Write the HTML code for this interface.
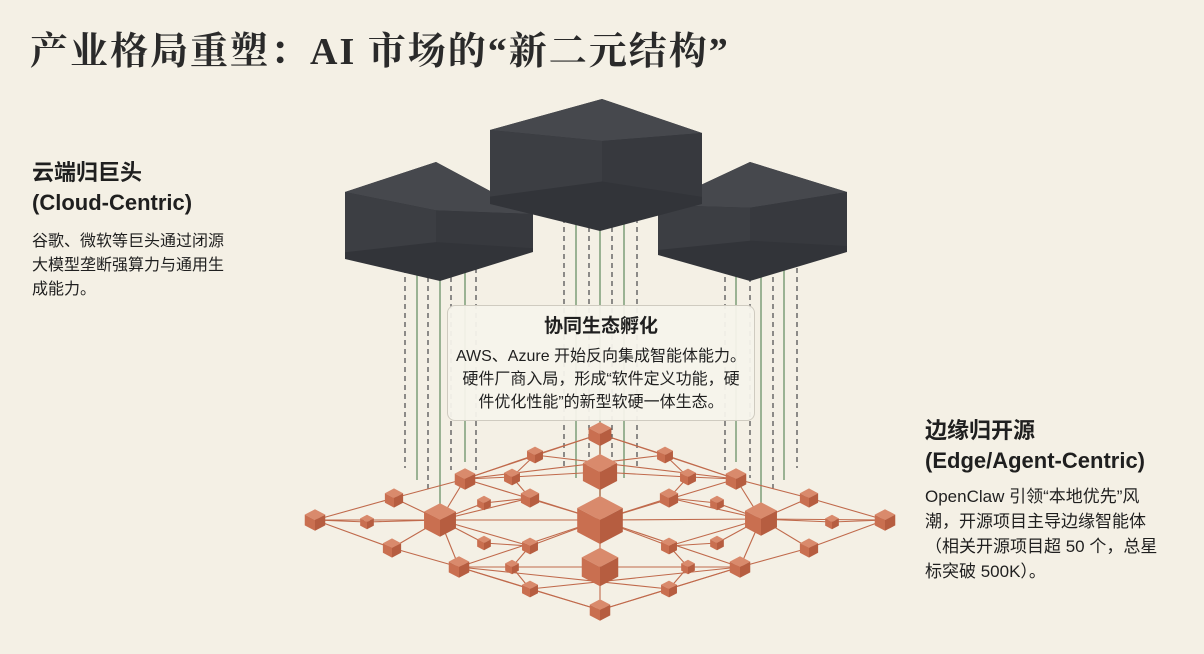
<!DOCTYPE html>
<html><head><meta charset="utf-8">
<style>
html,body{margin:0;padding:0;}
body{width:1204px;height:654px;background:#f4f0e5;position:relative;overflow:hidden;font-family:"Liberation Sans","Noto Sans CJK SC",sans-serif;color:#1f1f1f;}
.t{position:absolute;white-space:nowrap;}
h1{position:absolute;left:30px;top:20px;margin:0;font-family:"Liberation Serif","Noto Serif CJK SC",serif;font-weight:700;font-size:38px;color:#2a2a2a;letter-spacing:2px;}
.h{font-size:22px;font-weight:700;line-height:30px;}
.b{font-size:16px;line-height:24px;}
svg{position:absolute;left:0;top:0;}
.box{position:absolute;left:447px;top:305px;width:306px;height:114px;border:1px solid #cfcbc0;border-radius:8px;background:rgba(246,243,235,0.95);text-align:center;}
</style></head><body>
<svg id="s" width="1204" height="654" viewBox="0 0 1204 654"></svg>
<h1>产业格局重塑：AI 市场的“新二元结构”</h1>
<div class="t h" style="left:32px;top:158px;">云端归巨头</div>
<div class="t h" style="left:32px;top:188px;">(Cloud-Centric)</div>
<div class="t b" style="left:32px;top:230px;">谷歌、微软等巨头通过闭源<br>大模型垄断强算力与通用生<br>成能力。</div>
<div class="t h" style="left:925px;top:416px;">边缘归开源</div>
<div class="t h" style="left:925px;top:446px;">(Edge/Agent-Centric)</div>
<div class="t b" style="left:925px;top:484px;font-size:17px;line-height:25px;">OpenClaw 引领“本地优先”风<br>潮，开源项目主导边缘智能体<br>（相关开源项目超 50 个，总星<br>标突破 500K）。</div>
<div class="box">
<div style="font-size:19px;font-weight:700;margin-top:9px;line-height:24px;">协同生态孵化</div>
<div style="font-size:16px;line-height:23px;margin-top:6px;">AWS、Azure 开始反向集成智能体能力。<br>硬件厂商入局，形成“软件定义功能，硬<br>件优化性能”的新型软硬一体生态。</div>
</div>
<script>
var s=document.getElementById('s'),h='';
function P(pts,f){h+='<polygon points="'+pts.map(p=>p.join(',')).join(' ')+'" fill="'+f+'"/>';}
function L(x1,y1,x2,y2,c,w,d){h+='<line x1="'+x1+'" y1="'+y1+'" x2="'+x2+'" y2="'+y2+'" stroke="'+c+'" stroke-width="'+w+'"'+(d?' stroke-dasharray="'+d+'"':'')+'/>';}
function V(xs,y0,ends){xs.forEach((x,i)=>{var dash=i%2==0;L(x,y0,x,ends[i],dash?'#555':'#7d9d78',dash?1.3:1.5,dash?'5,4':null);});}
V([405,417,428,440,451,465,476],250,[468,480,490,508,470,462,470]);
V([564,576,589,600,612,624,637],200,[468,478,462,500,470,478,468]);
V([725,736,750,761,773,784,797],250,[470,462,478,508,490,480,468]);
function box(a,b,c,d,e,f){
 P([a,b,c,d,e,f],'#323439');
 var mid=[b[0],b[1]+(a[1]-b[1])+ (c[1]-a[1])*((b[0]-a[0])/(c[0]-a[0]))+ (e[1]-f[1])*0.35];
 P([a,b,c,mid],'#46484d');
 P([a,mid,[mid[0],mid[1]+ (e[1]-mid[1])*0.45],[f[0],f[1]-(f[1]-a[1])*0.1]],'#3c3e43');
 P([mid,c,[d[0],d[1]-(d[1]-c[1])*0.1],[mid[0],mid[1]+(e[1]-mid[1])*0.45]],'#37393e');
}
box([345,192],[436,162],[533,214],[533,252],[440,281],[345,259]);
box([658,205],[750,162],[847,192],[847,252],[750,281],[658,255]);
box([490,130],[602,99],[702,133],[702,204],[600,231],[490,204]);
var N={
T:[600,434,20],a1:[535,455,14],a2:[665,455,14],C1:[600,472,30],b1:[465,479,18],b2:[736,479,18],c1:[512,477,14],c2:[688,477,14],
d1:[394,498,16],d2:[809,498,16],e1:[530,498,16],e2:[669,498,16],f1:[484,503,12],f2:[717,503,12],
Lx:[315,520,18],Rx:[885,520,18],M1:[440,520,28],M2:[761,519,28],C:[600,520,40],g1:[367,522,12],g2:[832,522,12],
h1:[392,548,16],h2:[809,548,16],i1:[484,543,12],i2:[717,543,12],j1:[530,546,14],j2:[669,546,14],
C2:[600,567,32],k1:[459,567,18],k2:[740,567,18],l1:[512,567,12],l2:[688,567,12],m1:[530,589,14],m2:[669,589,14],B:[600,610,18]};
var E=[['Lx','d1'],['d1','b1'],['b1','a1'],['a1','T'],['T','a2'],['a2','b2'],['b2','d2'],['d2','Rx'],
['Lx','h1'],['h1','k1'],['k1','m1'],['m1','B'],['B','m2'],['m2','k2'],['k2','h2'],['h2','Rx'],
['Lx','g1'],['g1','M1'],['M1','C'],['C','M2'],['M2','g2'],['g2','Rx'],['Lx','M1'],['M2','Rx'],
['M1','b1'],['M1','k1'],['M2','b2'],['M2','k2'],['b1','c1'],['c1','C1'],['C1','c2'],['c2','b2'],
['k1','l1'],['l1','C2'],['C2','l2'],['l2','k2'],['T','C1'],['C1','C'],['C','C2'],['C2','B'],
['C','e1'],['C','e2'],['C','j1'],['C','j2'],['C','b1'],['C','b2'],['C','k1'],['C','k2'],['e1','f1'],['f1','M1'],['e2','f2'],['f2','M2'],
['j1','i1'],['i1','M1'],['j2','i2'],['i2','M2'],['d1','M1'],['h1','M1'],['d2','M2'],['h2','M2'],['a1','c1'],['a2','c2'],['m1','l1'],['m2','l2'],
['c1','e1'],['c2','e2'],['l1','j1'],['l2','j2'],['b1','a2'],['b2','a1'],['k1','m2'],['k2','m1'],['M1','e1'],['M2','e2'],['M1','j1'],['M2','j2'],['T','b1'],['T','b2'],['B','k1'],['B','k2']];
E.forEach(e=>{var p=N[e[0]],q=N[e[1]];L(p[0],p[1],q[0],q[1],'#c06a4c',1.1);});
Object.keys(N).forEach(k=>{var n=N[k],x=n[0],y=n[1],r=n[2]*0.6,w=r*0.95;
 var t=[x,y-r],ur=[x+w,y-r/2],lr=[x+w,y+r/2],b=[x,y+r],ll=[x-w,y+r/2],ul=[x-w,y-r/2],c=[x,y];
 P([t,ur,c,ul],'#d98a6c');P([ul,c,b,ll],'#c96f50');P([c,ur,lr,b],'#b65d40');});
s.innerHTML=h;
</script>
</body></html>
